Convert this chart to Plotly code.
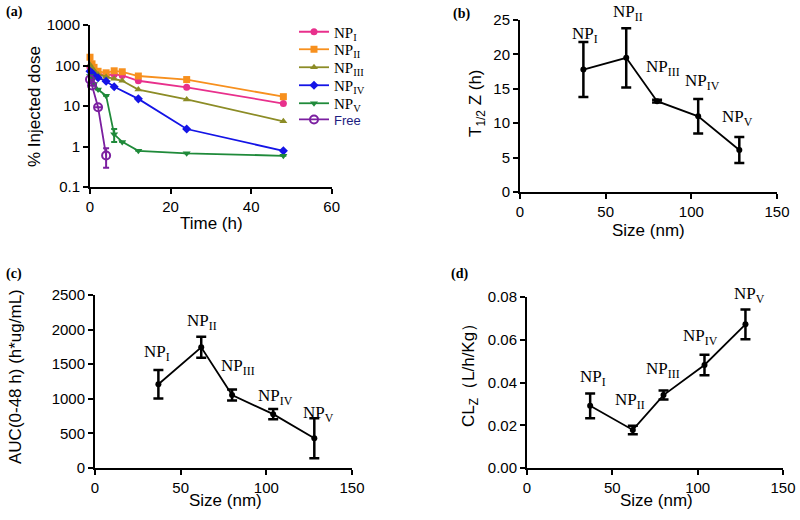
import plotly.graph_objects as go

# ---------------- data ----------------
# Panel (a): % injected dose vs time
times = [0, 0.5, 1, 2, 4, 6, 8, 12, 24, 48]
np1_dose = [90, 80, 70, 62, 58, 60, 57, 42, 29, 11.5]
np2_dose = [160, 110, 90, 72, 66, 74, 70, 55, 45, 17]
np3_dose = [105, 85, 75, 60, 52, 47, 42, 25.5, 14.5, 4.2]
np4_dose = [72, 65, 57, 50, 41, 30, None, 15, 2.7, 0.78]
np5_dose = [55, 45, 35, 25.5, 18, 2.0, 1.3, 0.78, 0.68, 0.59]
np5_err = [0, 0, 0, 0, 0, 0.7, 0, 0, 0, 0]
free_times = [0, 0.5, 2, 4]
free_dose = [45, 32, 9.3, 0.6]
free_err = [0, 0, 0, 0.3]

series_names = ["NP<sub>I</sub>", "NP<sub>II</sub>", "NP<sub>III</sub>",
                "NP<sub>IV</sub>", "NP<sub>V</sub>"]
free_name = "Free"

# Panels (b)-(d): vs particle size
sizes = [37, 62, 80, 104, 128]
t_half = [17.8, 19.5, 13.2, 11.0, 6.1]
t_half_err = [4.0, 4.3, 0.2, 2.5, 1.9]
auc = [1210, 1745, 1055, 778, 430]
auc_err = [205, 152, 80, 75, 290]
clz = [0.0291, 0.0178, 0.0341, 0.0482, 0.0672]
clz_err = [0.0058, 0.002, 0.0021, 0.0048, 0.007]

# ---------------- helpers ----------------
W, H = 800, 520
def px(x):
    return x / W
def py(y):
    return 1 - y / H

SANS = "Liberation Sans, Arial, sans-serif"
SERIF = "Liberation Serif, Times New Roman, serif"

fig = go.Figure()

colors = ["#e8308c", "#f7901e", "#8c8c26", "#1414e6", "#1f8a3a"]
symbols = ["circle", "square", "triangle-up", "diamond", "triangle-down"]
dose_sets = [np1_dose, np2_dose, np3_dose, np4_dose, np5_dose]
legend_ids = ["legend", "legend2", "legend3", "legend4", "legend5", "legend6"]
legend_rows = [32, 49.5, 67.5, 85.5, 103.5, 119.5]

for i, (nm, ys) in enumerate(zip(series_names, dose_sets)):
    kw = {}
    if i == 4:
        kw["error_y"] = dict(type="data", array=np5_err, color=colors[i],
                             thickness=2, width=3)
    fig.add_trace(go.Scatter(
        x=times, y=ys, name=nm, mode="lines+markers", connectgaps=True,
        line=dict(color=colors[i], width=1.8),
        marker=dict(symbol=symbols[i], size=7, color=colors[i]),
        legend=legend_ids[i],
        cliponaxis=False, xaxis="x", yaxis="y", **kw))

fig.add_trace(go.Scatter(
    x=free_times, y=free_dose,
    name=free_name,
    mode="lines+markers",
    line=dict(color="#7b1fa0", width=1.8),
    marker=dict(symbol="circle-open", size=8, color="#7b1fa0", line=dict(width=2)),
    error_y=dict(type="data", array=free_err, color="#7b1fa0", thickness=2, width=3),
    legend=legend_ids[5],
    cliponaxis=False, xaxis="x", yaxis="y"))

def add_size_panel(xa, ya, vals, errs):
    fig.add_trace(go.Scatter(
        x=sizes, y=vals, mode="lines+markers", showlegend=False,
        line=dict(color="black", width=1.8),
        marker=dict(symbol="circle", size=6, color="black"),
        error_y=dict(type="data", array=errs, color="black", thickness=2.5, width=5),
        cliponaxis=False, xaxis=xa, yaxis=ya))

add_size_panel("x2", "y2", t_half, t_half_err)
add_size_panel("x3", "y3", auc, auc_err)
add_size_panel("x4", "y4", clz, clz_err)

def axis(domain, anchor, **kw):
    d = dict(domain=domain, anchor=anchor, showline=True, linecolor="black",
             linewidth=2, ticks="outside", ticklen=5, tickwidth=2,
             tickcolor="black", showgrid=False, zeroline=False,
             automargin=False,
             tickfont=dict(family=SANS, size=15, color="black"))
    d.update(kw)
    return d

size_ticks = [0, 50, 100, 150]

layout = dict(
    template="none",
    width=W, height=H, margin=dict(l=0, r=0, t=0, b=0, pad=0),
    paper_bgcolor="white", plot_bgcolor="white",
    showlegend=True,
    xaxis=axis([px(90), px(331.7)], "y", range=[0, 60],
               tickvals=[0, 20, 40, 60]),
    yaxis=axis([py(187), py(25)], "x", type="log", range=[-1, 3],
               tickvals=[0.1, 1, 10, 100, 1000],
               ticktext=["0.1", "1", "10", "100", "1000"]),
    xaxis2=axis([px(520), px(777)], "y2", range=[0, 150], tickvals=size_ticks),
    yaxis2=axis([py(192), py(20)], "x2", range=[0, 25],
                tickvals=[0, 5, 10, 15, 20, 25]),
    xaxis3=axis([px(95), px(352)], "y3", range=[0, 150], tickvals=size_ticks),
    yaxis3=axis([py(468), py(295)], "x3", range=[0, 2500],
                tickvals=[0, 500, 1000, 1500, 2000, 2500]),
    xaxis4=axis([px(527), px(783)], "y4", range=[0, 150], tickvals=size_ticks),
    yaxis4=axis([py(468), py(297)], "x4", range=[0, 0.08],
                tickvals=[0, 0.02, 0.04, 0.06, 0.08], tickformat=".2f"),
)

for i, lid in enumerate(legend_ids):
    font = dict(family=SERIF, size=15, color="black")
    if i == 5:
        font = dict(family=SANS, size=13, color="#1c1c80")
    layout[lid] = dict(x=px(294), y=py(legend_rows[i]), xanchor="left",
                       yanchor="middle", font=font, bgcolor="rgba(0,0,0,0)",
                       borderwidth=0, itemwidth=30)

fig.update_layout(**layout)

ann = []
def txt(x, y, s, size=16, angle=0, family=SANS, **kw):
    ann.append(dict(x=px(x), y=py(y), xref="paper", yref="paper", text=s,
                    showarrow=False, textangle=angle,
                    font=dict(family=family, size=size, color="black"),
                    xanchor="center", yanchor="middle", **kw))

# axis titles
txt(211, 223, "Time (h)", size=17)
txt(35, 107, "% Injected dose", size=17, angle=-90)
txt(648, 230, "Size (nm)", size=17)
txt(477, 103, "T<sub>1/2</sub> Z (h)", size=17, angle=-90)
txt(226, 500, "Size (nm)", size=17)
txt(15, 377, "AUC(0-48 h) (h*ug/mL)", size=17, angle=-90)
txt(656, 500, "Size (nm)", size=17)
txt(470, 371, "CL<sub>Z</sub>（L/h/Kg）", size=17, angle=-90)

# panel letters
for (x, y, s) in [(14, 12, "(a)"), (461, 14, "(b)"), (14, 274, "(c)"), (459, 274, "(d)")]:
    txt(x, y, "<b>" + s + "</b>", size=14, family=SERIF)

# NP labels in the size panels (pixel positions)
lbl_b = [(585, 35), (628, 13), (663, 68), (702, 82), (737, 118)]
lbl_c = [(157, 353), (202, 322), (238, 367), (275, 397), (318, 414)]
lbl_d = [(593, 378), (630, 401), (663, 370), (700, 337), (749, 295)]
for group in (lbl_b, lbl_c, lbl_d):
    for nm, (x, y) in zip(series_names, group):
        txt(x, y, nm, size=17, family=SERIF)

fig.update_layout(annotations=ann)
fig.write_html("out.html", config={"displayModeBar": False},
               post_script="document.body.style.margin='0px';document.body.style.overflow='hidden';")
